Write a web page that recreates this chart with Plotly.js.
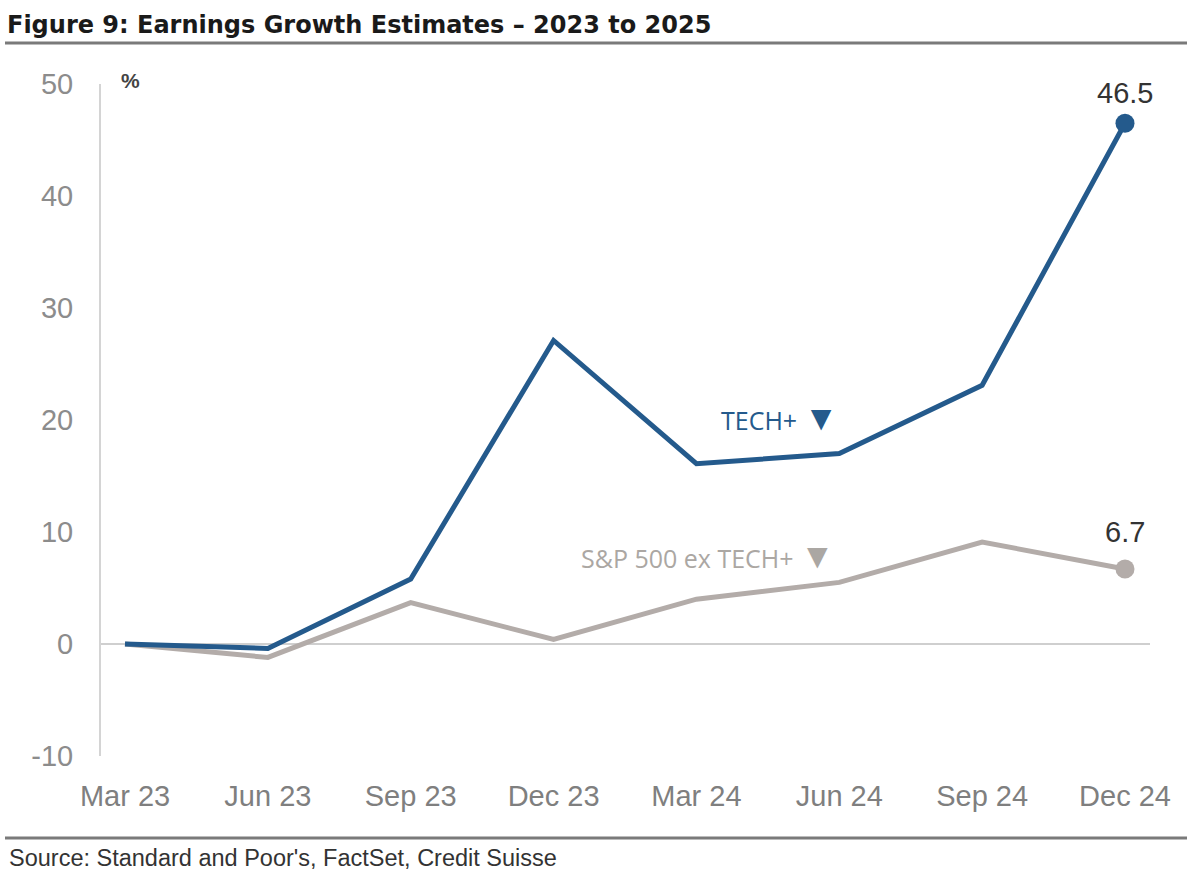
<!DOCTYPE html>
<html>
<head>
<meta charset="utf-8">
<script src="https://cdn.plot.ly/plotly-3.0.1.min.js"></script>
<style>
html,body{margin:0;padding:0;background:#fff;}
#chart{width:1196px;height:874px;}
</style>
</head>
<body>
<div id="chart"></div>
<script>
const categories = ["Mar 23","Jun 23","Sep 23","Dec 23","Mar 24","Jun 24","Sep 24","Dec 24"];
const techPlus = [0, -0.4, 5.8, 27.1, 16.1, 17.0, 23.1, 46.5];
const spExTech = [0, -1.2, 3.7, 0.4, 4.0, 5.5, 9.1, 6.7];
const yTicks = [-10, 0, 10, 20, 30, 40, 50];

const blue = "#245a8c";
const grey = "#b3aca9";
const last = categories.length - 1;

const traces = [
  {x: categories, y: spExTech, type: "scatter", mode: "lines", line: {color: grey, width: 5}, hoverinfo: "skip"},
  {x: categories, y: techPlus, type: "scatter", mode: "lines", line: {color: blue, width: 5}, hoverinfo: "skip"},
  {x: [categories[last]], y: [spExTech[last]], type: "scatter", mode: "markers", marker: {color: grey, size: 19}, hoverinfo: "skip"},
  {x: [categories[last]], y: [techPlus[last]], type: "scatter", mode: "markers", marker: {color: blue, size: 19}, hoverinfo: "skip"}
];

const px2x = p => (p - 101) / 1049;
const py2y = p => (756 - p) / 672;

const layout = {
  width: 1196, height: 874,
  margin: {l: 101, r: 46, t: 84, b: 118},
  paper_bgcolor: "#fff", plot_bgcolor: "#fff",
  showlegend: false,
  title: {
    text: "<b>Figure 9: Earnings Growth Estimates – 2023 to 2025</b>",
    font: {family: "DejaVu Sans, Liberation Sans, Arial, sans-serif", size: 24, color: "#1a1a1a"},
    xref: "container", x: 7/1196, xanchor: "left",
    yref: "container", y: 1 - 25/874, yanchor: "middle"
  },
  xaxis: {
    type: "category",
    range: [-0.168, 7.175],
    showgrid: false, zeroline: false, showline: false,
    ticks: "", tickfont: {family: "Liberation Sans, Arial, sans-serif", size: 29, color: "#7f7f7f"},
    ticklabelstandoff: 20, fixedrange: true
  },
  yaxis: {
    range: [-10, 50],
    tickvals: yTicks, ticktext: yTicks.map(String),
    showgrid: false,
    zeroline: true, zerolinecolor: "#cfcfcf", zerolinewidth: 1.5,
    showline: true, linecolor: "#d4d4d4", linewidth: 2,
    ticks: "", tickfont: {family: "Liberation Sans, Arial, sans-serif", size: 29, color: "#8c8c8c"},
    ticklabelstandoff: 20, fixedrange: true
  },
  shapes: [
    {type: "line", xref: "paper", yref: "paper", x0: px2x(5), x1: px2x(1187), y0: py2y(43), y1: py2y(43), line: {color: "#7a7a7a", width: 3}},
    {type: "line", xref: "paper", yref: "paper", x0: px2x(5), x1: px2x(1187), y0: py2y(838), y1: py2y(838), line: {color: "#7a7a7a", width: 3}}
  ],
  annotations: [
    {xref: "paper", yref: "paper", x: px2x(119), y: py2y(80), text: "<b>%</b>", showarrow: false, xanchor: "left", yanchor: "middle",
     font: {family: "Liberation Sans, Arial, sans-serif", size: 21, color: "#444"}},
    {x: categories[last], y: techPlus[last], text: String(techPlus[last]), showarrow: false, yshift: 30,
     font: {family: "Liberation Sans, Arial, sans-serif", size: 29, color: "#333"}},
    {x: categories[last], y: spExTech[last], text: String(spExTech[last]), showarrow: false, yshift: 37,
     font: {family: "Liberation Sans, Arial, sans-serif", size: 29, color: "#333"}},
    {x: 4.58, y: 20.35, text: "TECH+ <span style='font-size:35px'>▼</span>", showarrow: false,
     font: {family: "Open Sans, Noto Sans, sans-serif", size: 25, color: blue}},
    {x: 4.08, y: 7.95, text: "S&P 500 ex TECH+ <span style='font-size:35px'>▼</span>", showarrow: false,
     font: {family: "Open Sans, Noto Sans, sans-serif", size: 25, color: "#aba7a3"}},
    {xref: "paper", yref: "paper", x: px2x(7), y: py2y(858), text: "Source: Standard and Poor's, FactSet, Credit Suisse", showarrow: false,
     xanchor: "left", yanchor: "middle",
     font: {family: "Liberation Sans, Arial, sans-serif", size: 23.5, color: "#333"}}
  ]
};

Plotly.newPlot("chart", traces, layout, {displayModeBar: false, staticPlot: true});
</script>
</body>
</html>
